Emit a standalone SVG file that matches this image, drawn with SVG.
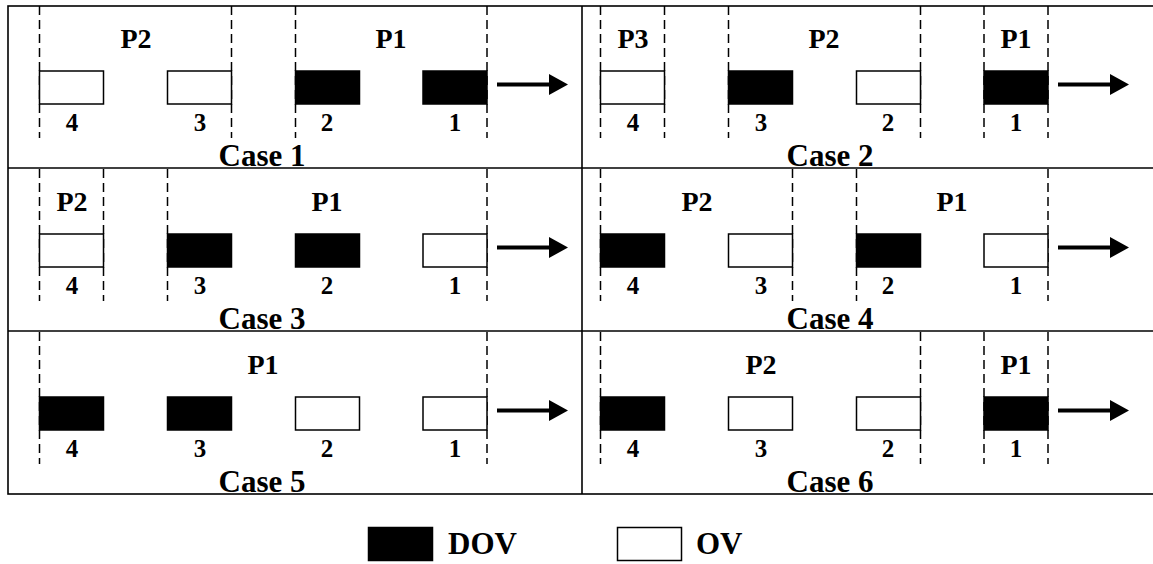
<svg xmlns="http://www.w3.org/2000/svg" width="1153" height="564" viewBox="0 0 1153 564">
  <style>
    .frame { fill: none; stroke: #000; stroke-width: 1.6; }
    .sep { stroke: #000; stroke-width: 1.6; }
    .dash { stroke: #000; stroke-width: 1.5; stroke-dasharray: 9 5; }
    .ov { fill: #fff; stroke: #000; stroke-width: 1.5; }
    .dov { fill: #000; stroke: #000; stroke-width: 1.5; }
    text { font-family: "Liberation Serif", "Times New Roman", serif; font-weight: bold; fill: #000; }
    .plabel { font-size: 28px; text-anchor: middle; }
    .num { font-size: 25px; text-anchor: middle; }
    .case { font-size: 31px; text-anchor: middle; }
    .legend { font-size: 31px; }
    .shaft { stroke: #000; stroke-width: 4; }
  </style>
  <defs>
    <!-- one direction arrow, drawn in panel coordinates -->
    <g id="dir-arrow">
      <line class="shaft" x1="497" y1="84.5" x2="552" y2="84.5"/>
      <polygon points="549,74 568,84.5 549,95" fill="#000"/>
    </g>
  </defs>

  <!-- outer frame and panel separators -->
  <g id="frame">
    <rect class="frame" x="8" y="6" width="1152" height="488"/>
    <line class="sep" x1="582" y1="6" x2="582" y2="494"/>
    <line class="sep" x1="8" y1="168" x2="1160" y2="168"/>
    <line class="sep" x1="8" y1="331" x2="1160" y2="331"/>
  </g>

  <!-- Case 1 -->
  <g id="case1">
    <line class="dash" x1="39.5" y1="6" x2="39.5" y2="138"/>
    <line class="dash" x1="231.5" y1="6" x2="231.5" y2="138"/>
    <line class="dash" x1="295.5" y1="6" x2="295.5" y2="138"/>
    <line class="dash" x1="487" y1="6" x2="487" y2="138"/>
    <text class="plabel" x="136" y="48">P2</text>
    <text class="plabel" x="391" y="48">P1</text>
    <rect id="c1-v4" class="ov" x="39.5" y="71" width="64" height="33"/>
    <rect id="c1-v3" class="ov" x="167.5" y="71" width="64" height="33"/>
    <rect id="c1-v2" class="dov" x="295.5" y="71" width="64" height="33"/>
    <rect id="c1-v1" class="dov" x="423" y="71" width="64" height="33"/>
    <text class="num" x="72" y="131">4</text>
    <text class="num" x="200" y="131">3</text>
    <text class="num" x="327" y="131">2</text>
    <text class="num" x="455" y="131">1</text>
    <text class="case" x="262" y="166">Case 1</text>
  </g>

  <!-- Case 2 -->
  <g id="case2" transform="translate(561,0)">
    <line class="dash" x1="39.5" y1="6" x2="39.5" y2="138"/>
    <line class="dash" x1="103.5" y1="6" x2="103.5" y2="138"/>
    <line class="dash" x1="167.5" y1="6" x2="167.5" y2="138"/>
    <line class="dash" x1="359.5" y1="6" x2="359.5" y2="138"/>
    <line class="dash" x1="423" y1="6" x2="423" y2="138"/>
    <line class="dash" x1="487" y1="6" x2="487" y2="138"/>
    <text class="plabel" x="72" y="48">P3</text>
    <text class="plabel" x="263" y="48">P2</text>
    <text class="plabel" x="455" y="48">P1</text>
    <rect id="c2-v4" class="ov" x="39.5" y="71" width="64" height="33"/>
    <rect id="c2-v3" class="dov" x="167.5" y="71" width="64" height="33"/>
    <rect id="c2-v2" class="ov" x="295.5" y="71" width="64" height="33"/>
    <rect id="c2-v1" class="dov" x="423" y="71" width="64" height="33"/>
    <text class="num" x="72" y="131">4</text>
    <text class="num" x="200" y="131">3</text>
    <text class="num" x="327" y="131">2</text>
    <text class="num" x="455" y="131">1</text>
    <text class="case" x="269" y="166">Case 2</text>
  </g>

  <!-- Case 3 -->
  <g id="case3" transform="translate(0,163)">
    <line class="dash" x1="39.5" y1="6" x2="39.5" y2="138"/>
    <line class="dash" x1="103.5" y1="6" x2="103.5" y2="138"/>
    <line class="dash" x1="167.5" y1="6" x2="167.5" y2="138"/>
    <line class="dash" x1="487" y1="6" x2="487" y2="138"/>
    <text class="plabel" x="72" y="48">P2</text>
    <text class="plabel" x="327" y="48">P1</text>
    <rect id="c3-v4" class="ov" x="39.5" y="71" width="64" height="33"/>
    <rect id="c3-v3" class="dov" x="167.5" y="71" width="64" height="33"/>
    <rect id="c3-v2" class="dov" x="295.5" y="71" width="64" height="33"/>
    <rect id="c3-v1" class="ov" x="423" y="71" width="64" height="33"/>
    <text class="num" x="72" y="131">4</text>
    <text class="num" x="200" y="131">3</text>
    <text class="num" x="327" y="131">2</text>
    <text class="num" x="455" y="131">1</text>
    <text class="case" x="262" y="166">Case 3</text>
  </g>

  <!-- Case 4 -->
  <g id="case4" transform="translate(561,163)">
    <line class="dash" x1="39.5" y1="6" x2="39.5" y2="138"/>
    <line class="dash" x1="231.5" y1="6" x2="231.5" y2="138"/>
    <line class="dash" x1="295.5" y1="6" x2="295.5" y2="138"/>
    <line class="dash" x1="487" y1="6" x2="487" y2="138"/>
    <text class="plabel" x="136" y="48">P2</text>
    <text class="plabel" x="391" y="48">P1</text>
    <rect id="c4-v4" class="dov" x="39.5" y="71" width="64" height="33"/>
    <rect id="c4-v3" class="ov" x="167.5" y="71" width="64" height="33"/>
    <rect id="c4-v2" class="dov" x="295.5" y="71" width="64" height="33"/>
    <rect id="c4-v1" class="ov" x="423" y="71" width="64" height="33"/>
    <text class="num" x="72" y="131">4</text>
    <text class="num" x="200" y="131">3</text>
    <text class="num" x="327" y="131">2</text>
    <text class="num" x="455" y="131">1</text>
    <text class="case" x="269" y="166">Case 4</text>
  </g>

  <!-- Case 5 -->
  <g id="case5" transform="translate(0,326)">
    <line class="dash" x1="39.5" y1="6" x2="39.5" y2="138"/>
    <line class="dash" x1="487" y1="6" x2="487" y2="138"/>
    <text class="plabel" x="263" y="48">P1</text>
    <rect id="c5-v4" class="dov" x="39.5" y="71" width="64" height="33"/>
    <rect id="c5-v3" class="dov" x="167.5" y="71" width="64" height="33"/>
    <rect id="c5-v2" class="ov" x="295.5" y="71" width="64" height="33"/>
    <rect id="c5-v1" class="ov" x="423" y="71" width="64" height="33"/>
    <text class="num" x="72" y="131">4</text>
    <text class="num" x="200" y="131">3</text>
    <text class="num" x="327" y="131">2</text>
    <text class="num" x="455" y="131">1</text>
    <text class="case" x="262" y="166">Case 5</text>
  </g>

  <!-- Case 6 -->
  <g id="case6" transform="translate(561,326)">
    <line class="dash" x1="39.5" y1="6" x2="39.5" y2="138"/>
    <line class="dash" x1="359.5" y1="6" x2="359.5" y2="138"/>
    <line class="dash" x1="423" y1="6" x2="423" y2="138"/>
    <line class="dash" x1="487" y1="6" x2="487" y2="138"/>
    <text class="plabel" x="200" y="48">P2</text>
    <text class="plabel" x="455" y="48">P1</text>
    <rect id="c6-v4" class="dov" x="39.5" y="71" width="64" height="33"/>
    <rect id="c6-v3" class="ov" x="167.5" y="71" width="64" height="33"/>
    <rect id="c6-v2" class="ov" x="295.5" y="71" width="64" height="33"/>
    <rect id="c6-v1" class="dov" x="423" y="71" width="64" height="33"/>
    <text class="num" x="72" y="131">4</text>
    <text class="num" x="200" y="131">3</text>
    <text class="num" x="327" y="131">2</text>
    <text class="num" x="455" y="131">1</text>
    <text class="case" x="269" y="166">Case 6</text>
  </g>

  <!-- direction arrows -->
  <g id="connectors">
    <use href="#dir-arrow"/>
    <use href="#dir-arrow" transform="translate(561,0)"/>
    <use href="#dir-arrow" transform="translate(0,163)"/>
    <use href="#dir-arrow" transform="translate(561,163)"/>
    <use href="#dir-arrow" transform="translate(0,326)"/>
    <use href="#dir-arrow" transform="translate(561,326)"/>
  </g>

  <!-- legend -->
  <g id="legend">
    <rect class="dov" x="368.5" y="527.5" width="64" height="33"/>
    <text class="legend" x="448" y="554">DOV</text>
    <rect class="ov" x="617.5" y="527.5" width="64" height="33"/>
    <text class="legend" x="696" y="554">OV</text>
  </g>
</svg>
